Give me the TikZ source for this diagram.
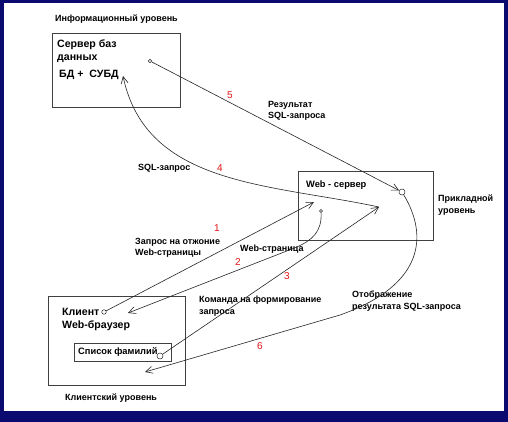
\documentclass[tikz,border=0pt]{standalone}
\usepackage{fontspec}
\setmainfont{Liberation Sans}
\usetikzlibrary{arrows.meta}
\definecolor{frame}{RGB}{10,10,112}
\definecolor{numred}{RGB}{225,20,20}
\begin{document}
\begin{tikzpicture}[x=1pt,y=-1pt,
  box/.style={draw=black!75, line width=1pt, inner sep=0pt, anchor=north west},
  lbl/.style={font=\bfseries\fontsize{9}{11.5}\selectfont, inner sep=0pt, anchor=west, align=left},
  big/.style={font=\bfseries\fontsize{10.6}{13}\selectfont, inner sep=0pt, anchor=west, align=left},
  num/.style={font=\fontsize{10}{10}\selectfont, text=numred, inner sep=0pt},
  conn/.style={draw=black!85, line width=0.6pt, -{Straight Barb[length=7pt,width=7pt]}},
  dot/.style={circle, draw=black!85, inner sep=0pt, minimum size=4pt, line width=0.5pt}]
\fill[frame] (0,0) rectangle (508,422);
\fill[white] (4,3) rectangle (504,411);
\useasboundingbox (0,0) rectangle (508,422);

% boxes
\node[box, minimum width=128pt, minimum height=74pt] (srv) at (52,33) {};
\node[box, minimum width=135pt, minimum height=69pt] (web) at (298,171) {};
\node[box, minimum width=137pt, minimum height=89pt] (cli) at (48,296) {};
\node[box, minimum width=97pt, minimum height=18pt] (lst) at (74,343) {};

% texts
\node[lbl] (tinf) at (55,19) {Информационный уровень};
\node[big] (tsrv) at (57,51.5) {Сервер баз\\данных};
\node[big] (tdb) at (59,75) {БД +\ \ СУБД};
\node[lbl, font=\bfseries\fontsize{9.3}{11}\selectfont] (tweb) at (306,185) {Web - сервер};
\node[lbl] (tapp) at (438,205) {Прикладной\\уровень};
\node[lbl] (tres) at (268,111) {Результат\\SQL-запроса};
\node[lbl] (tsql) at (138,168) {SQL-запрос};
\node[lbl] (treq) at (135,248) {Запрос на отжоние\\Web-страницы};
\node[lbl] (tpage) at (240,249) {Web-страница};
\node[lbl] (tcmd) at (199,306) {Команда на формирование\\запроса};
\node[lbl] (tshow) at (352,301) {Отображение\\результата SQL-запроса};
\node[big] (tcli) at (62,319) {Клиент\\Web-браузер};
\node[lbl, font=\bfseries\fontsize{9.3}{11}\selectfont] (tlst) at (78,352) {Список фамилий};
\node[lbl] (tclv) at (65,398) {Клиентский уровень};

% numbers
\node[num] (n1) at (217,228) {1};
\node[num] (n2) at (238,262) {2};
\node[num] (n3) at (287,276) {3};
\node[num] (n4) at (220,168) {4};
\node[num] (n5) at (230,95) {5};
\node[num] (n6) at (260,346) {6};

% end points
\node[dot, minimum size=3.5pt] (d5) at (150,61) {};
\node[dot, minimum size=6pt] (dw) at (402,192) {};
\node[dot, minimum size=4.5pt] (d1) at (104,312) {};
\node[dot, minimum size=3pt] (d2) at (321,211) {};
\node[dot, minimum size=6pt] (d3) at (160,356) {};
\coordinate (e1) at (314,202);
\coordinate (e3) at (379,207);
\coordinate (e2) at (128,313);
\coordinate (e4) at (123,76);
\coordinate (e6) at (145,372);

% connectors
\draw[conn] (d1) -- (e1);
\draw[conn] (d2) .. controls (322,232) and (312,240) .. (297,247) -- (e2);
\draw[conn] (d3) -- (e3);
\draw[conn] (e3) to[out=168, in=-78] (e4);
\draw[conn] (d5) -- (dw);
\draw[conn] (dw) .. controls (428,235) and (425,285) .. (340,315) -- (e6);
\end{tikzpicture}
\end{document}
